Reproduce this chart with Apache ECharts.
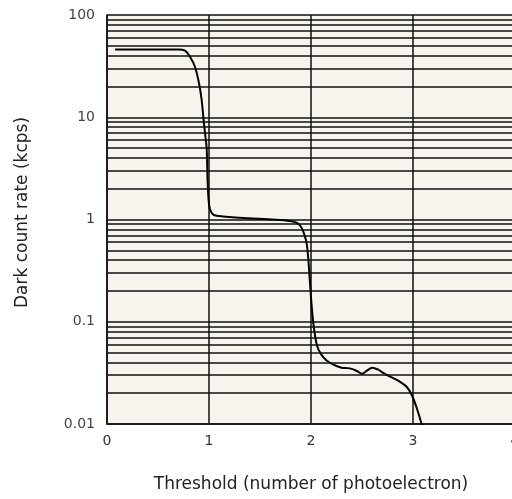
<!DOCTYPE html>
<html>
<head>
<meta charset="utf-8">
<script src="https://cdn.jsdelivr.net/npm/echarts@6/dist/echarts.min.js"></script>
<style>
  html, body { margin: 0; padding: 0; background: #fff; }
  #chart { width: 512px; height: 499px; }
</style>
</head>
<body>
<div id="chart"></div>
<script>
// threshold (photoelectrons) vs dark count rate (kcps)
const threshold = [0.08, 0.70, 0.765, 0.814, 0.863, 0.902, 0.928, 0.944, 0.961, 0.977, 0.985, 0.995, 1.01, 1.04, 1.075, 1.3, 1.79, 1.89, 1.95, 1.97, 1.99, 2.01, 2.03, 2.06, 2.1, 2.15, 2.22, 2.3, 2.38, 2.45, 2.5, 2.545, 2.6, 2.66, 2.7, 2.775, 2.87, 2.94, 2.99, 3.04, 3.09];
const darkRate = [46, 46, 44.8, 39, 31, 21.5, 14.8, 10.1, 7.0, 5.0, 2.6, 1.6, 1.25, 1.12, 1.09, 1.04, 0.965, 0.88, 0.63, 0.45, 0.24, 0.13, 0.085, 0.058, 0.048, 0.042, 0.038, 0.0355, 0.035, 0.033, 0.031, 0.033, 0.0355, 0.034, 0.032, 0.029, 0.026, 0.023, 0.019, 0.014, 0.0095];

// minor log grid lines: 2..9 within each decade
const minorGrid = [];
[0.01, 0.1, 1, 10].forEach(d => {
  for (let m = 2; m <= 9; m++) minorGrid.push(+(m * d).toPrecision(3));
});

const chart = echarts.init(document.getElementById('chart'));
chart.setOption({
  animation: false,
  grid: {
    left: 107, top: 15, width: 408, bottom: 75,
    outerBoundsMode: 'none', containLabel: false,
    backgroundColor: '#f6f4ec', show: true, borderWidth: 0
  },
  xAxis: {
    type: 'value', min: 0, max: 4, interval: 1,
    name: 'Threshold (number of photoelectron)',
    nameLocation: 'middle', nameGap: 52,
    nameTextStyle: { fontFamily: 'DejaVu Sans', fontSize: 17, color: '#222' },
    axisLine: { lineStyle: { color: '#111', width: 1.5 } },
    axisTick: { show: false },
    axisLabel: { fontFamily: 'DejaVu Sans', fontSize: 14, color: '#333', margin: 10 },
    splitLine: { show: true, lineStyle: { color: '#111', width: 1.5 } }
  },
  yAxis: {
    type: 'log', min: 0.01, max: 100, logBase: 10,
    name: 'Dark count rate (kcps)',
    nameLocation: 'middle', nameGap: 76,
    nameTextStyle: { fontFamily: 'DejaVu Sans', fontSize: 17, color: '#222', padding: [0, 0, 0, 14] },
    axisLine: { show: true, lineStyle: { color: '#111', width: 1.5 } },
    axisTick: { show: false },
    axisLabel: {
      fontFamily: 'DejaVu Sans', fontSize: 14, color: '#444', margin: 12,
      formatter: v => String(+v.toPrecision(3))
    },
    splitLine: { show: true, lineStyle: { color: '#111', width: 1.5 } }
  },
  series: [{
    type: 'line',
    data: threshold.map((x, i) => [x, darkRate[i]]),
    smooth: 0.35,
    showSymbol: false,
    clip: true,
    lineStyle: { color: '#000', width: 2 },
    markLine: {
      silent: true,
      symbol: 'none',
      label: { show: false },
      lineStyle: { color: '#111', width: 1.5, type: 'solid' },
      data: minorGrid.map(v => ({ yAxis: v }))
    }
  }]
});
</script>
</body>
</html>
